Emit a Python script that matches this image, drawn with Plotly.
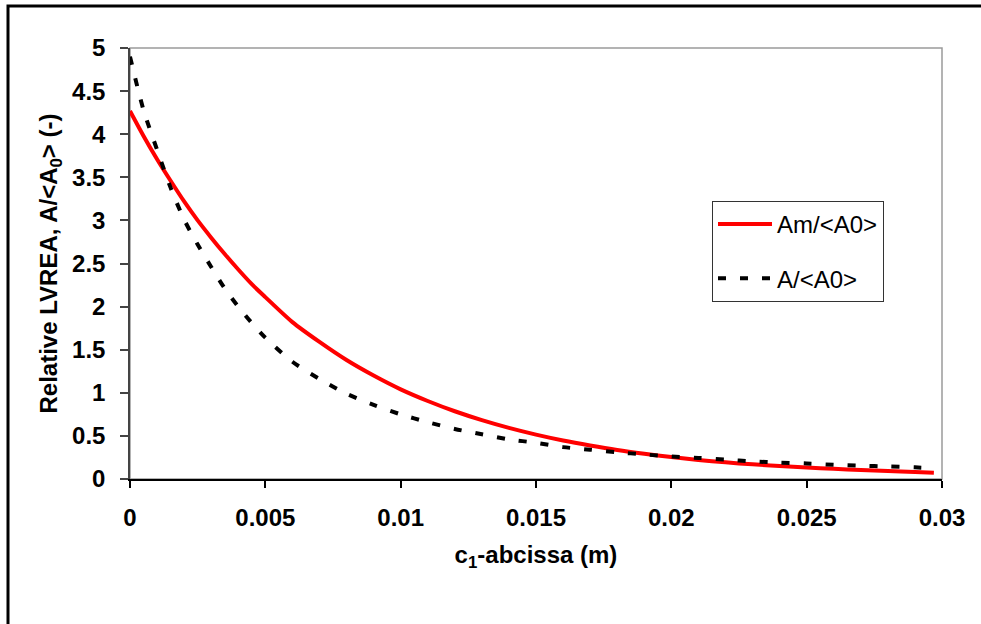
import plotly.graph_objects as go

# Data
x_vals = [0, 0.0005, 0.001, 0.0015, 0.002, 0.0025, 0.003, 0.0035, 0.004, 0.0045,
          0.005, 0.006, 0.007, 0.008, 0.009, 0.010, 0.011, 0.012, 0.013, 0.014,
          0.015, 0.016, 0.017, 0.018, 0.019, 0.020, 0.021, 0.022, 0.023, 0.024,
          0.025, 0.026, 0.027, 0.028, 0.029, 0.0297]

am_ratio = [4.27, 3.98, 3.71, 3.46, 3.22, 3.00, 2.80, 2.61, 2.43, 2.26,
            2.11, 1.82, 1.59, 1.38, 1.20, 1.04, 0.905, 0.786, 0.683, 0.593,
            0.515, 0.447, 0.389, 0.337, 0.293, 0.254, 0.221, 0.193, 0.170, 0.150,
            0.132, 0.118, 0.105, 0.092, 0.080, 0.072]

a_ratio = [4.90, 4.28, 3.82, 3.38, 3.01, 2.72, 2.46, 2.21, 2.00, 1.81,
           1.64, 1.36, 1.16, 0.99, 0.86, 0.75, 0.66, 0.58, 0.52, 0.46,
           0.42, 0.37, 0.34, 0.31, 0.285, 0.26, 0.245, 0.225, 0.205, 0.19,
           0.18, 0.165, 0.155, 0.145, 0.135, 0.125]

series_names = ["Am/<A0>", "A/<A0>"]
x_ticks = [0, 0.005, 0.01, 0.015, 0.02, 0.025, 0.03]
x_tick_labels = ["0", "0.005", "0.01", "0.015", "0.02", "0.025", "0.03"]
y_ticks = [0, 0.5, 1, 1.5, 2, 2.5, 3, 3.5, 4, 4.5, 5]
y_tick_labels = ["0", "0.5", "1", "1.5", "2", "2.5", "3", "3.5", "4", "4.5", "5"]

FONT = "Liberation Sans, Arial, sans-serif"
FS = 24

fig = go.Figure()
fig.add_trace(go.Scatter(
    x=x_vals, y=am_ratio, mode="lines", name=series_names[0],
    line=dict(color="#ff0000", width=4, shape="spline", smoothing=0.8), legendgroup="g1"))
fig.add_trace(go.Scatter(
    x=x_vals, y=a_ratio, mode="lines", name=series_names[1],
    line=dict(color="#000000", width=4, dash="8px,14px", shape="spline", smoothing=0.8),
    legendgroup="g2"))

# plot-area border (grey) and outer chart border (black)
fig.add_shape(type="rect", xref="paper", yref="paper", x0=0, x1=1, y0=0, y1=1,
              line=dict(color="#9a9a9a", width=1.5), layer="below")
fig.add_shape(type="rect", xref="paper", yref="paper",
              x0=(8 - 130) / 812, x1=1.3, y0=-0.6, y1=(479 - 6) / 431,
              line=dict(color="#000000", width=3))

fig.update_layout(
    width=981, height=624,
    margin=dict(l=130, r=39, t=48, b=145),
    paper_bgcolor="white", plot_bgcolor="white",
    font=dict(family=FONT, size=FS, color="black"),
    legend=dict(
        x=(712 - 130) / 812, y=(479 - 201) / 431, xanchor="left", yanchor="top",
        bordercolor="#333333", borderwidth=1, bgcolor="white",
        font=dict(family=FONT, size=FS, color="black"),
        tracegroupgap=20, itemwidth=54),
    xaxis=dict(
        range=[0, 0.03], tickvals=x_ticks, ticktext=x_tick_labels,
        showgrid=False, zeroline=False, showline=True, linecolor="black", linewidth=1.5,
        ticks="outside", ticklen=7, tickcolor="black", tickwidth=1.5,
        tickfont=dict(family=FONT, size=FS, weight="bold"),
        ticklabelstandoff=9,
        title=dict(text="c<sub>1</sub>-abcissa (m)",
                   font=dict(family=FONT, size=FS, weight="bold"), standoff=17)),
    yaxis=dict(
        range=[0, 5], tickvals=y_ticks, ticktext=y_tick_labels,
        showgrid=False, zeroline=False, showline=True, linecolor="#444444", linewidth=1.5,
        ticks="outside", ticklen=8, tickcolor="#444444", tickwidth=1.5,
        tickfont=dict(family=FONT, size=FS, weight="bold"),
        ticklabelstandoff=10,
        title=dict(text="Relative LVREA, A/<A<sub>0</sub>> (-)",
                   font=dict(family=FONT, size=FS, weight="bold"), standoff=8)),
)

fig.write_html("out.html", config={"displayModeBar": False},
               post_script="document.body.style.margin='0px';")
